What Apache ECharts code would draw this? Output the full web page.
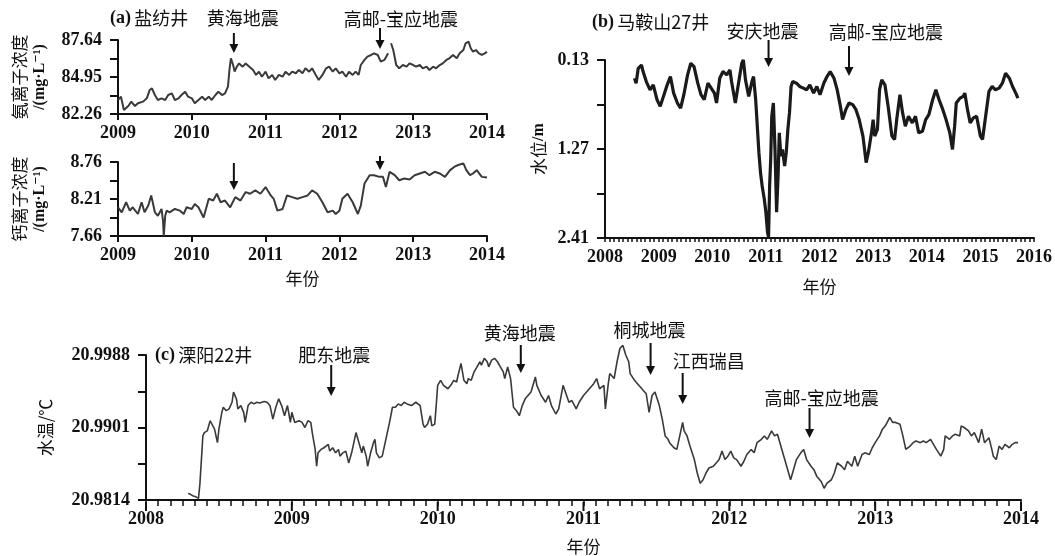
<!DOCTYPE html>
<html><head><meta charset="utf-8">
<script src="https://cdn.jsdelivr.net/npm/echarts/dist/echarts.min.js"></script>
<style>html,body{margin:0;padding:0;background:#fff}#c{width:1055px;height:556px}</style>
</head><body><div id="c"></div>
<script>
// ---------------- data ----------------
const yearTicksA = [2009, 2010, 2011, 2012, 2013, 2014];
const yearTicksB = [2008, 2009, 2010, 2011, 2012, 2013, 2014, 2015, 2016];
const yearTicksC = [2008, 2009, 2010, 2011, 2012, 2013, 2014];
const ammoniaTicks = [82.26, 84.95, 87.64];
const calciumTicks = [7.66, 8.21, 8.76];
const levelTicks = [0.13, 1.27, 2.41];
const tempTicks = [20.9814, 20.9901, 20.9988];

const ammonia = [
[2009.00,83.28],[2009.04,83.52],[2009.08,82.55],[2009.14,82.84],[2009.18,83.16],[2009.23,82.84],[2009.27,83.04],[2009.34,83.16],
[2009.39,83.40],[2009.43,84.01],[2009.46,84.13],[2009.50,83.64],[2009.54,83.28],[2009.59,83.40],[2009.64,83.28],[2009.68,83.64],
[2009.73,83.76],[2009.77,83.28],[2009.82,83.40],[2009.86,83.64],[2009.91,83.88],[2009.95,83.52],[2010.00,83.40],[2010.04,83.04],
[2010.09,83.28],[2010.14,83.52],[2010.18,83.28],[2010.23,83.52],[2010.27,83.28],[2010.32,83.64],[2010.36,83.88],[2010.41,83.64],
[2010.45,83.76],[2010.49,84.25],[2010.51,85.46],[2010.53,86.31],[2010.56,85.82],[2010.58,85.34],[2010.61,85.70],[2010.64,85.94],
[2010.69,85.70],[2010.73,85.94],[2010.78,85.70],[2010.83,85.46],[2010.87,85.10],[2010.91,85.34],[2010.95,84.97],[2011.00,85.34],
[2011.04,84.85],[2011.09,85.10],[2011.13,84.73],[2011.18,85.10],[2011.23,84.97],[2011.27,85.34],[2011.32,85.10],[2011.36,85.34],
[2011.41,85.22],[2011.45,85.46],[2011.50,85.22],[2011.54,85.58],[2011.59,85.34],[2011.63,85.58],[2011.68,85.10],[2011.72,84.73],
[2011.77,85.10],[2011.82,85.58],[2011.86,85.70],[2011.91,85.34],[2011.95,85.58],[2012.00,85.22],[2012.04,85.34],[2012.09,84.97],
[2012.13,85.34],[2012.18,85.10],[2012.22,85.34],[2012.26,85.10],[2012.29,85.82],[2012.34,86.19],[2012.38,86.43],[2012.43,86.55],
[2012.47,86.67],[2012.52,86.55],[2012.56,86.07],[2012.61,86.19],[2012.66,86.67],[2012.68,'-'],[2012.70,87.40],[2012.73,86.91],
[2012.77,85.82],[2012.81,85.58],[2012.86,85.82],[2012.91,85.70],[2012.95,85.94],[2013.00,85.82],[2013.04,85.70],[2013.09,85.82],
[2013.13,85.58],[2013.18,85.70],[2013.22,85.46],[2013.27,85.70],[2013.31,85.58],[2013.36,85.82],[2013.40,85.94],[2013.45,86.19],
[2013.49,86.31],[2013.54,86.55],[2013.59,86.31],[2013.63,86.67],[2013.68,86.91],[2013.71,87.40],[2013.75,87.52],[2013.78,87.04],
[2013.81,86.79],[2013.85,86.91],[2013.89,86.67],[2013.93,86.55],[2013.97,86.67],[2014.00,86.79]
];

const calcium = [
[2009.00,8.087],[2009.05,8.012],[2009.11,8.162],[2009.16,8.037],[2009.20,8.087],[2009.27,7.987],[2009.32,8.162],[2009.36,8.012],
[2009.41,8.112],[2009.45,8.263],[2009.50,8.012],[2009.54,7.961],[2009.59,8.062],[2009.61,7.886],[2009.62,7.66],[2009.64,7.961],
[2009.66,8.037],[2009.70,8.012],[2009.77,8.062],[2009.84,8.037],[2009.89,7.987],[2009.93,8.087],[2010.00,8.062],[2010.04,8.137],
[2010.09,8.087],[2010.16,7.936],[2010.23,8.213],[2010.29,8.187],[2010.34,8.288],[2010.39,8.162],[2010.45,8.187],[2010.52,8.087],
[2010.59,8.238],[2010.66,8.187],[2010.73,8.313],[2010.79,8.288],[2010.86,8.338],[2010.93,8.288],[2011.00,8.388],[2011.07,8.263],
[2011.11,8.213],[2011.16,8.037],[2011.23,8.062],[2011.29,8.263],[2011.36,8.238],[2011.43,8.213],[2011.50,8.238],[2011.57,8.263],
[2011.63,8.338],[2011.70,8.288],[2011.77,8.162],[2011.84,8.012],[2011.91,8.037],[2011.95,7.987],[2012.00,8.037],[2012.04,8.213],
[2012.11,8.288],[2012.18,8.162],[2012.25,7.987],[2012.29,8.112],[2012.34,8.439],[2012.41,8.564],[2012.47,8.564],[2012.54,8.539],
[2012.59,8.539],[2012.63,8.388],[2012.68,8.614],[2012.75,8.564],[2012.81,8.489],[2012.88,8.514],[2012.95,8.499],[2013.02,8.564],
[2013.09,8.589],[2013.16,8.614],[2013.22,8.564],[2013.29,8.614],[2013.36,8.589],[2013.43,8.539],[2013.50,8.639],[2013.56,8.690],
[2013.61,8.715],[2013.68,8.740],[2013.72,8.639],[2013.77,8.564],[2013.81,8.589],[2013.86,8.639],[2013.93,8.539],[2014.00,8.529]
];

const waterLevel = [
[2008.55,0.363],[2008.58,0.427],[2008.62,0.236],[2008.68,0.194],[2008.71,0.278],[2008.77,0.406],[2008.84,0.512],[2008.90,0.448],
[2008.97,0.639],[2009.03,0.724],[2009.09,0.596],[2009.16,0.448],[2009.22,0.342],[2009.28,0.554],[2009.35,0.681],[2009.41,0.745],
[2009.47,0.575],[2009.54,0.321],[2009.60,0.172],[2009.66,0.215],[2009.73,0.427],[2009.79,0.575],[2009.85,0.639],[2009.92,0.427],
[2009.98,0.490],[2010.04,0.554],[2010.08,0.681],[2010.14,0.363],[2010.20,0.278],[2010.27,0.321],[2010.33,0.257],[2010.36,0.406],
[2010.43,0.681],[2010.49,0.427],[2010.55,0.172],[2010.58,0.130],[2010.62,0.384],[2010.68,0.596],[2010.74,0.406],[2010.77,0.342],
[2010.81,0.639],[2010.84,0.978],[2010.87,1.317],[2010.90,1.572],[2010.93,1.741],[2010.97,1.911],[2011.00,2.080],[2011.03,2.335],
[2011.05,2.398],[2011.07,1.741],[2011.09,1.402],[2011.11,0.851],[2011.14,0.681],[2011.17,1.275],[2011.20,2.080],[2011.23,1.572],
[2011.25,1.063],[2011.28,1.360],[2011.31,1.275],[2011.35,1.487],[2011.38,1.317],[2011.41,1.020],[2011.44,0.808],[2011.47,0.469],
[2011.50,0.406],[2011.57,0.427],[2011.63,0.469],[2011.70,0.490],[2011.76,0.512],[2011.82,0.448],[2011.89,0.554],[2011.95,0.469],
[2012.01,0.575],[2012.08,0.427],[2012.14,0.342],[2012.20,0.278],[2012.27,0.363],[2012.33,0.512],[2012.39,0.724],[2012.43,0.893],
[2012.49,0.766],[2012.55,0.681],[2012.62,0.702],[2012.68,0.766],[2012.74,0.893],[2012.81,1.105],[2012.87,1.444],[2012.91,1.317],
[2012.97,1.063],[2013.00,0.893],[2013.03,1.105],[2013.08,1.020],[2013.12,0.512],[2013.16,0.384],[2013.22,0.448],[2013.28,0.724],
[2013.35,1.105],[2013.40,1.148],[2013.44,0.893],[2013.50,0.575],[2013.55,0.808],[2013.60,0.978],[2013.66,0.851],[2013.73,0.936],
[2013.79,0.851],[2013.85,1.063],[2013.92,1.042],[2013.98,0.893],[2014.04,0.830],[2014.11,0.639],[2014.17,0.512],[2014.23,0.639],
[2014.30,0.766],[2014.36,0.893],[2014.43,1.063],[2014.48,1.275],[2014.52,0.978],[2014.55,0.681],[2014.62,0.618],[2014.68,0.596],
[2014.71,0.554],[2014.76,0.766],[2014.81,0.936],[2014.87,0.872],[2014.93,0.851],[2015.00,1.105],[2015.04,1.148],[2015.09,0.893],
[2015.16,0.533],[2015.22,0.469],[2015.28,0.512],[2015.35,0.490],[2015.41,0.427],[2015.47,0.300],[2015.54,0.363],[2015.60,0.469],
[2015.66,0.554],[2015.70,0.618]
];

const waterTemp = [
[2008.29,20.98221],[2008.32,20.98192],[2008.34,20.98180],[2008.36,20.98160],[2008.37,20.98342],[2008.38,20.98625],[2008.39,20.98909],
[2008.40,20.98949],[2008.42,20.98969],[2008.43,20.99030],[2008.44,20.99091],[2008.45,20.99111],[2008.47,20.98990],[2008.49,20.98828],
[2008.50,20.98990],[2008.52,20.99192],[2008.53,20.99253],[2008.55,20.99212],[2008.57,20.99233],[2008.59,20.99313],[2008.60,20.99435],
[2008.62,20.99354],[2008.63,20.99233],[2008.65,20.99273],[2008.67,20.99192],[2008.68,20.99071],[2008.70,20.99273],[2008.72,20.99313],
[2008.74,20.99293],[2008.76,20.99313],[2008.78,20.99305],[2008.81,20.99322],[2008.83,20.99313],[2008.85,20.99273],[2008.87,20.99111],
[2008.89,20.99253],[2008.91,20.99354],[2008.93,20.99273],[2008.95,20.99152],[2008.97,20.99273],[2008.99,20.99071],[2009.00,20.99192],
[2009.02,20.99071],[2009.05,20.99091],[2009.07,20.99071],[2009.09,20.99010],[2009.11,20.99091],[2009.13,20.99071],[2009.14,20.98949],
[2009.16,20.98747],[2009.17,20.98545],[2009.18,20.98706],[2009.20,20.98747],[2009.22,20.98767],[2009.25,20.98808],[2009.26,20.98727],
[2009.28,20.98767],[2009.30,20.98706],[2009.32,20.98747],[2009.33,20.98666],[2009.35,20.98706],[2009.37,20.98727],[2009.39,20.98585],
[2009.41,20.98706],[2009.43,20.98868],[2009.44,20.98949],[2009.46,20.98828],[2009.48,20.98706],[2009.49,20.98787],[2009.51,20.98666],
[2009.52,20.98545],[2009.54,20.98706],[2009.56,20.98828],[2009.57,20.98868],[2009.58,20.98706],[2009.60,20.98646],[2009.62,20.98666],
[2009.63,20.98747],[2009.65,20.98909],[2009.67,20.99071],[2009.69,20.99253],[2009.71,20.99253],[2009.73,20.99293],[2009.75,20.99273],
[2009.77,20.99313],[2009.79,20.99293],[2009.82,20.99273],[2009.85,20.99313],[2009.88,20.99273],[2009.90,20.99050],[2009.91,20.99010],
[2009.93,20.99050],[2009.95,20.99152],[2009.96,20.99030],[2009.98,20.99050],[2009.99,20.99273],[2010.00,20.99516],[2010.02,20.99576],
[2010.04,20.99516],[2010.07,20.99475],[2010.09,20.99516],[2010.11,20.99576],[2010.13,20.99556],[2010.14,20.99637],[2010.16,20.99779],
[2010.18,20.99576],[2010.20,20.99536],[2010.21,20.99597],[2010.23,20.99576],[2010.25,20.99678],[2010.27,20.99738],[2010.29,20.99799],
[2010.30,20.99759],[2010.32,20.99840],[2010.34,20.99799],[2010.35,20.99738],[2010.37,20.99819],[2010.39,20.99840],[2010.41,20.99799],
[2010.43,20.99738],[2010.45,20.99678],[2010.46,20.99597],[2010.48,20.99738],[2010.50,20.99597],[2010.52,20.99253],[2010.54,20.99212],
[2010.56,20.99152],[2010.58,20.99273],[2010.60,20.99354],[2010.64,20.99435],[2010.67,20.99617],[2010.68,20.99516],[2010.71,20.99394],
[2010.74,20.99313],[2010.76,20.99394],[2010.78,20.99273],[2010.81,20.99172],[2010.83,20.99233],[2010.86,20.99516],[2010.88,20.99415],
[2010.90,20.99313],[2010.92,20.99334],[2010.95,20.99233],[2010.97,20.99313],[2011.00,20.99394],[2011.03,20.99455],[2011.07,20.99536],
[2011.09,20.99597],[2011.11,20.99475],[2011.14,20.99516],[2011.15,20.99233],[2011.17,20.99536],[2011.18,20.99657],[2011.21,20.99597],
[2011.23,20.99799],[2011.24,20.99880],[2011.25,20.99961],[2011.27,20.99995],[2011.29,20.99880],[2011.31,20.99799],[2011.32,20.99657],
[2011.35,20.99576],[2011.37,20.99536],[2011.39,20.99496],[2011.41,20.99455],[2011.43,20.99415],[2011.45,20.99192],[2011.47,20.99394],
[2011.49,20.99435],[2011.50,20.99415],[2011.52,20.99273],[2011.54,20.99111],[2011.56,20.98909],[2011.58,20.98868],[2011.59,20.98828],
[2011.62,20.98767],[2011.64,20.98747],[2011.66,20.98909],[2011.68,20.99071],[2011.69,20.98969],[2011.71,20.98909],[2011.73,20.98787],
[2011.76,20.98625],[2011.78,20.98464],[2011.80,20.98342],[2011.82,20.98383],[2011.84,20.98464],[2011.86,20.98524],[2011.89,20.98545],
[2011.91,20.98585],[2011.93,20.98625],[2011.95,20.98727],[2011.97,20.98625],[2011.99,20.98666],[2012.01,20.98727],[2012.03,20.98646],
[2012.05,20.98625],[2012.08,20.98545],[2012.10,20.98605],[2012.12,20.98686],[2012.15,20.98747],[2012.17,20.98706],[2012.19,20.98828],
[2012.22,20.98868],[2012.24,20.98909],[2012.26,20.98868],[2012.29,20.98969],[2012.31,20.98909],[2012.33,20.98929],[2012.36,20.98747],
[2012.38,20.98625],[2012.40,20.98504],[2012.42,20.98383],[2012.44,20.98504],[2012.46,20.98625],[2012.49,20.98706],[2012.51,20.98747],
[2012.53,20.98625],[2012.56,20.98545],[2012.58,20.98504],[2012.60,20.98423],[2012.63,20.98362],[2012.65,20.98281],[2012.67,20.98342],
[2012.70,20.98383],[2012.72,20.98464],[2012.74,20.98585],[2012.77,20.98545],[2012.79,20.98504],[2012.81,20.98605],[2012.84,20.98545],
[2012.86,20.98666],[2012.88,20.98545],[2012.91,20.98686],[2012.93,20.98706],[2012.96,20.98686],[2012.98,20.98767],[2013.00,20.98828],
[2013.03,20.98909],[2013.05,20.98990],[2013.07,20.99030],[2013.10,20.99131],[2013.12,20.99071],[2013.14,20.99071],[2013.17,20.99050],
[2013.19,20.98909],[2013.21,20.98747],[2013.24,20.98787],[2013.26,20.98828],[2013.28,20.98848],[2013.31,20.98828],[2013.33,20.98848],
[2013.35,20.98828],[2013.38,20.98868],[2013.40,20.98808],[2013.42,20.98747],[2013.45,20.98666],[2013.47,20.98747],[2013.48,20.98909],
[2013.51,20.98868],[2013.53,20.98909],[2013.55,20.98929],[2013.58,20.98909],[2013.59,20.99030],[2013.61,20.99010],[2013.64,20.98969],
[2013.66,20.98909],[2013.68,20.98949],[2013.71,20.98828],[2013.73,20.98990],[2013.75,20.98828],[2013.78,20.98888],[2013.80,20.98747],
[2013.81,20.98666],[2013.83,20.98625],[2013.85,20.98787],[2013.87,20.98747],[2013.89,20.98808],[2013.92,20.98767],[2013.94,20.98808],
[2013.96,20.98828],[2013.98,20.98828]
];

const eventsA = [{name: '黄海地震', year: 2010.57}, {name: '高邮-宝应地震', year: 2012.55}];
const eventsB = [{name: '安庆地震', year: 2011.05}, {name: '高邮-宝应地震', year: 2012.55}];
const eventsC = [{name: '肥东地震', year: 2009.27}, {name: '黄海地震', year: 2010.57}, {name: '桐城地震', year: 2011.46},
                 {name: '江西瑞昌', year: 2011.68}, {name: '高邮-宝应地震', year: 2012.55}];

// ---------------- styles / layout ----------------
const SERIF = '"Liberation Serif","DejaVu Serif",serif';
const CJK = '"Noto Sans CJK SC",sans-serif';
const INK = '#111';
const LABEL_SIZE = 18;
const grids = [
  {left: 118, top: 40, width: 369, height: 74},
  {left: 118, top: 162, width: 369, height: 74},
  {left: 605, top: 60, width: 430, height: 178},
  {left: 146, top: 355, width: 875, height: 147}
];

// tick values: labelled values plus evenly split sub-steps
function subdivide(ticks, n) {
  const out = [];
  for (let a = 0; a < ticks.length - 1; a++) {
    for (let k = 0; k < n; k++) out.push(+(ticks[a] + (ticks[a + 1] - ticks[a]) * k / n).toFixed(8));
  }
  out.push(ticks[ticks.length - 1]);
  return out;
}

function xAxisCfg(gridIndex, ticks, perYear, tickLen, extra) {
  return Object.assign({
    type: 'value', gridIndex: gridIndex, position: 'bottom', min: ticks[0], max: ticks[ticks.length - 1], interval: 1,
    axisLine: {show: true, onZero: false, lineStyle: {color: INK, width: 2}},
    axisTick: {show: true, length: tickLen, customValues: subdivide(ticks, perYear),
               lineStyle: {color: INK, width: perYear > 1 ? 1.5 : 2}},
    axisLabel: {fontFamily: SERIF, fontWeight: 'bold', fontSize: LABEL_SIZE, color: INK, margin: 10,
                customValues: ticks, formatter: v => String(Math.round(v))},
    splitLine: {show: false}
  }, extra || {});
}
function yAxisCfg(gridIndex, ticks, digits, extra) {
  return Object.assign({
    type: 'value', gridIndex: gridIndex, position: 'left', min: ticks[0], max: ticks[ticks.length - 1],
    interval: +(ticks[1] - ticks[0]).toFixed(digits),
    axisLine: {show: true, onZero: false, lineStyle: {color: INK, width: 2}},
    axisTick: {show: true, length: 8, customValues: subdivide(ticks, 2), lineStyle: {color: INK, width: 2}},
    axisLabel: {fontFamily: SERIF, fontWeight: 'bold', fontSize: LABEL_SIZE, color: INK, margin: 16,
                customValues: ticks, formatter: v => v.toFixed(digits)},
    splitLine: {show: false},
    nameLocation: 'middle', nameRotate: 90
  }, extra || {});
}
const nameRich = {
  c: {fontFamily: CJK, fontSize: 17, color: INK, lineHeight: 20},
  s: {fontFamily: SERIF, fontWeight: 'bold', fontSize: 16, color: INK, lineHeight: 20}
};
const xNameStyle = {fontFamily: CJK, fontSize: 17, color: INK};

const option = {
  animation: false,
  backgroundColor: '#fff',
  grid: grids,
  xAxis: [
    xAxisCfg(0, yearTicksA, 1, 6),
    xAxisCfg(1, yearTicksA, 1, 6, {name: '年份', nameLocation: 'middle', nameGap: 34, nameTextStyle: xNameStyle}),
    xAxisCfg(2, yearTicksB, 12, 4, {name: '年份', nameLocation: 'middle', nameGap: 40, nameTextStyle: xNameStyle}),
    xAxisCfg(3, yearTicksC, 12, 6, {name: '年份', nameLocation: 'middle', nameGap: 38, nameTextStyle: xNameStyle})
  ],
  yAxis: [
    yAxisCfg(0, ammoniaTicks, 2, {name: '{c|氨离子浓度}\n{s|/(mg·L\u207B\u00B9)}', nameGap: 68, nameTextStyle: {rich: nameRich}}),
    yAxisCfg(1, calciumTicks, 2, {name: '{c|钙离子浓度}\n{s|/(mg·L\u207B\u00B9)}', nameGap: 68, nameTextStyle: {rich: nameRich}}),
    yAxisCfg(2, levelTicks, 2, {inverse: true, name: '{c|水位}{s|/m}', nameGap: 56, nameTextStyle: {rich: nameRich}}),
    yAxisCfg(3, tempTicks, 4, {name: '{c|水温/℃}', nameGap: 90, nameTextStyle: {rich: nameRich}})
  ],
  series: [
    {type: 'line', xAxisIndex: 0, yAxisIndex: 0, data: ammonia, showSymbol: false, connectNulls: false,
     lineStyle: {color: '#3a3a3a', width: 2}},
    {type: 'line', xAxisIndex: 1, yAxisIndex: 1, data: calcium, showSymbol: false,
     lineStyle: {color: '#3a3a3a', width: 2}},
    {type: 'line', xAxisIndex: 2, yAxisIndex: 2, data: waterLevel, showSymbol: false,
     lineStyle: {color: '#1a1a1a', width: 3.2}},
    {type: 'line', xAxisIndex: 3, yAxisIndex: 3, data: waterTemp, showSymbol: false, clip: false,
     lineStyle: {color: '#3a3a3a', width: 1.6}}
  ]
};

const chart = echarts.init(document.getElementById('c'), null, {renderer: 'canvas'});
chart.setOption(option);

const g = [];
// longer whole-year ticks on panel (c)
yearTicksC.forEach(yr => {
  const x = chart.convertToPixel({xAxisIndex: 3}, yr);
  const base = grids[3].top + grids[3].height;
  if (isFinite(x)) g.push({type: 'line', silent: true, shape: {x1: x, y1: base, x2: x, y2: base + 9},
                           style: {stroke: INK, lineWidth: 2}});
});

// -------- annotations (titles, earthquake arrows) --------
// per-event layout: [label dx from arrow, label centre y, arrow top y, arrow tip y]
const layoutA = [[9, 18, 33, 53], [21, 19, 28, 49]];
const layoutA2 = [[null, null, 163, 190], [null, null, 156, 170]];
const layoutB = [[-6, 31, 40, 67], [37, 32, 46, 76]];
const layoutC = [[3, 355, 365, 396], [-1, 333, 345, 373], [-1, 330, 343, 375], [26, 361, 373, 404], [12, 398, 408, 438]];

function arrow(x, y1, y2) {
  g.push({type: 'line', silent: true, shape: {x1: x, y1: y1, x2: x, y2: y2 - 6}, style: {stroke: INK, lineWidth: 2}});
  g.push({type: 'polygon', silent: true, shape: {points: [[x - 4.5, y2 - 9], [x + 4.5, y2 - 9], [x, y2]]}, style: {fill: INK}});
}
function label(text, x, y) {
  g.push({type: 'text', silent: true, x: x, y: y,
    style: {text: text, fontFamily: CJK, fontSize: 18, fill: INK, align: 'center', verticalAlign: 'middle',
            textAlign: 'center', textVerticalAlign: 'middle'}});
}
function title(tag, cn, x, y) {
  g.push({type: 'text', silent: true, x: x, y: y,
    style: {text: '{t|' + tag + '} {c|' + cn + '}', align: 'left', verticalAlign: 'middle',
            textAlign: 'left', textVerticalAlign: 'middle',
            rich: {t: {fontFamily: SERIF, fontWeight: 'bold', fontSize: 18, fill: INK, color: INK},
                   c: {fontFamily: CJK, fontSize: 18, fill: INK, color: INK}}}});
}
function placeEvents(events, layout, axisIdx) {
  events.forEach((ev, i) => {
    const x = chart.convertToPixel({xAxisIndex: axisIdx}, ev.year);
    const L = layout[i];
    arrow(x, L[2], L[3]);
    if (L[0] !== null) label(ev.name, x + L[0], L[1]);
  });
}
placeEvents(eventsA, layoutA, 0);
placeEvents(eventsA, layoutA2, 1);
placeEvents(eventsB, layoutB, 2);
placeEvents(eventsC, layoutC, 3);
title('(a)', '盐纺井', 110, 18);
title('(b)', '马鞍山27井', 592, 22);
title('(c)', '溧阳22井', 155, 355);
chart.setOption({graphic: {elements: g}});
</script></body></html>
